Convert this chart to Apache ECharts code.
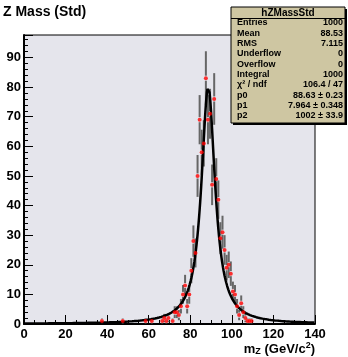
<!DOCTYPE html>
<html><head><meta charset="utf-8">
<script src="https://cdn.jsdelivr.net/npm/echarts@6/dist/echarts.min.js"></script>
<style>html,body{margin:0;padding:0;background:#fff}#c{width:348px;height:357px}</style>
</head><body><div id="c"></div>
<script>
// histogram: bin lower edges (GeV, width 1) and counts
const binEdges = [37,47,58,61,66,67,68,69,71,72,73,74,75,76,77,78,79,80,81,82,83,84,85,86,87,88,89,90,91,92,93,94,95,96,97,98,99,100,101,102,103,104,105,106,107,108,109];
const counts   = [ 1, 1, 1, 1, 1, 2, 1, 2, 1, 4, 4, 3, 6,10,13, 6,10,18,28,24,50,69,58,61,83,69,71,47,76,49,42,29,31,25,19,20,17, 11, 10,  6,  3,  7,  4,  2,  1,  1,  1];
// fit parameters (Breit-Wigner) from the stats box
const fitP0 = 88.63, fitP1 = 7.964, fitP2 = 1002;
const xTicks = [0,20,40,60,80,100,120,140];
const yTicks = [0,10,20,30,40,50,60,70,80,90];
const statsRows = [
  ["Entries","1000"],["Mean","88.53"],["RMS","7.115"],["Underflow","0"],["Overflow","0"],
  ["Integral","1000"],["χ² / ndf","106.4 / 47"],["p0","88.63 ± 0.23"],["p1","7.964 ± 0.348"],["p2","1002 ± 33.9"]
];

const pts = binEdges.map((e,i)=>[e+0.5, counts[i]]);
const fitCurve = [];
for (let x=0; x<=140; x+=0.25){
  fitCurve.push([x, fitP2*(fitP1/(2*Math.PI))/((x-fitP0)*(x-fitP0)+fitP1*fitP1/4)]);
}

const chart = echarts.init(document.getElementById('c'), null, {renderer:'canvas'});
const F = '"Liberation Sans", Arial, Helvetica, sans-serif';

const graphics = [];
graphics.push({type:'text', left:3, top:5, style:{text:'Z Mass (Std)', font:'bold 14px '+F, fill:'#000'}});
// stats box
const bx=231, by=7, bw=114, bh=116;
graphics.push({type:'rect', shape:{x:bx+2,y:by+2,width:bw,height:bh}, style:{fill:'#000'}, z:10});
graphics.push({type:'rect', shape:{x:bx,y:by,width:bw,height:bh}, style:{fill:'#cec6a2', stroke:'#000', lineWidth:1}, z:11});
graphics.push({type:'line', shape:{x1:bx,y1:by+11.5,x2:bx+bw,y2:by+11.5}, style:{stroke:'#000',lineWidth:1}, z:12});
graphics.push({type:'text', x:bx+bw/2, y:by+6, style:{text:'hZMassStd', font:'bold 10px '+F, fill:'#000', align:'center', verticalAlign:'middle'}, z:12});
statsRows.forEach((r,i)=>{
  const y = by+16+i*10.3;
  graphics.push({type:'text', x:bx+6, y:y, style:{text:r[0], font:'bold 9px '+F, fill:'#000', align:'left', verticalAlign:'middle'}, z:12});
  graphics.push({type:'text', x:bx+bw-2, y:y, style:{text:r[1], font:'bold 9px '+F, fill:'#000', align:'right', verticalAlign:'middle'}, z:12});
});
// x-axis title
graphics.push({type:'text', x:315, y:349, style:{
  text:'m{sub|Z} (GeV/c{sup|2})', font:'bold 13px '+F, fill:'#000', align:'right', verticalAlign:'middle',
  rich:{sub:{font:'bold 9px '+F, verticalAlign:'bottom', padding:[6,0,0,0]}, sup:{font:'bold 9px '+F, padding:[0,0,6,0]}}
}});

chart.setOption({
  animation:false,
  backgroundColor:'#fff',
  grid:{left:24, right:33, top:35, bottom:33, show:true, backgroundColor:'#e5e5ec', borderColor:'#000', borderWidth:1},
  xAxis:{type:'value', min:0, max:140, interval:20,
    axisLine:{show:true, onZero:false, lineStyle:{color:'#000', width:2}},
    axisTick:{show:true, inside:true, length:9, lineStyle:{color:'#000'}},
    minorTick:{show:true, splitNumber:4, length:4, lineStyle:{color:'#000'}},
    splitLine:{show:false},
    axisLabel:{color:'#000', font:'bold 13px '+F, fontWeight:'bold', fontSize:13, fontFamily:F, margin:4,
      formatter:v=>xTicks.includes(v)?String(v):''}
  },
  yAxis:{type:'value', min:0, max:97.6, interval:10,
    axisLine:{show:true, onZero:false, lineStyle:{color:'#000', width:2}},
    axisTick:{show:true, inside:true, length:9, lineStyle:{color:'#000'}},
    minorTick:{show:true, splitNumber:5, length:4, lineStyle:{color:'#000'}},
    splitLine:{show:false},
    axisLabel:{color:'#000', fontWeight:'bold', fontSize:13, fontFamily:F, margin:3,
      showMaxLabel:false, formatter:v=>yTicks.includes(v)?String(v):''}
  },
  series:[
    {type:'custom', name:'errors', data:pts, clip:true, z:3,
      renderItem:(params, api)=>{
        const x=api.value(0), v=api.value(1), e=Math.sqrt(v);
        const top=api.coord([x, v+e]), bot=api.coord([x, Math.max(0,v-e)]), mid=api.coord([x,v]);
        return {type:'group', children:[
          {type:'line', shape:{x1:top[0],y1:top[1],x2:mid[0],y2:mid[1]-2.5}, style:{stroke:'#666',lineWidth:2}},
          {type:'line', shape:{x1:mid[0],y1:mid[1]+2.5,x2:bot[0],y2:bot[1]}, style:{stroke:'#666',lineWidth:2}}
        ]};
      }},
    {type:'scatter', name:'data', data:pts, symbol:'circle', symbolSize:4, itemStyle:{color:'#ff0000'}, z:5},
    {type:'line', name:'fit', data:fitCurve, showSymbol:false, smooth:false, lineStyle:{color:'#000', width:2.5}, z:4}
  ],
  graphic:graphics
});
</script></body></html>
